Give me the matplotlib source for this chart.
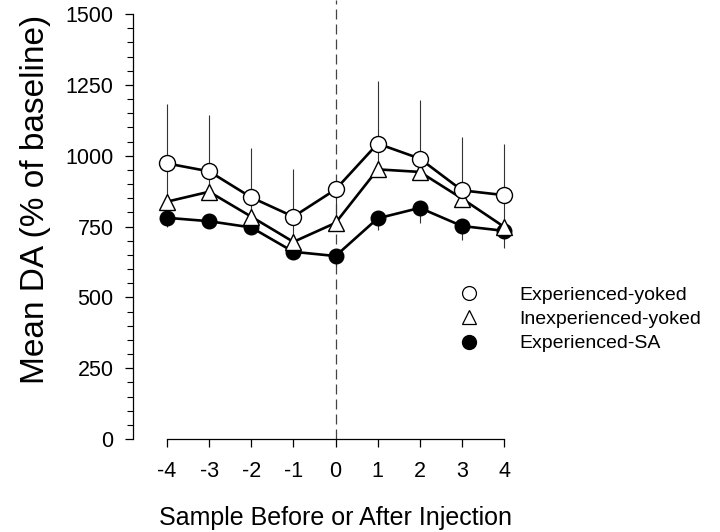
import numpy as np
import matplotlib
matplotlib.use("Agg")
import matplotlib.pyplot as plt
from matplotlib.lines import Line2D

plt.rcParams['font.family'] = ['Liberation Sans', 'DejaVu Sans']

# ---------------- DATA ----------------
samples = [-4, -3, -2, -1, 0, 1, 2, 3, 4]

exp_yoked = [973, 945, 853, 785, 881, 1043, 990, 878, 861]
exp_yoked_err = [209, 199, 176, 167, 0, 222, 206, 187, 179]      # upward only

inexp_yoked = [838, 873, 785, 696, 763, 952, 943, 849, 749]
inexp_yoked_err = [120, 70, 65, 89, 110, 88, 45, 25, 110]          # upward only

exp_sa = [781, 769, 747, 661, 646, 779, 816, 752, 735]
exp_sa_err = [32, 0, 0, 20, 35, 41, 55, 50, 62]                    # downward only

labels = ["Experienced-yoked", "Inexperienced-yoked", "Experienced-SA"]

# ---------------- FIGURE ----------------
fig = plt.figure(figsize=(7.2, 5.32), dpi=100)
ax = fig.add_axes([0.1847, 0.1748, 0.533, 0.8252])

x = np.array(samples)
lw = 1.9
ecol = "#333333"

# error bars (thin, one-sided)
ax.errorbar(x, exp_sa, yerr=[exp_sa_err, np.zeros(len(x))], fmt='none',
            ecolor=ecol, elinewidth=0.8, capsize=0, zorder=1)
ax.errorbar(x, inexp_yoked, yerr=[np.zeros(len(x)), inexp_yoked_err], fmt='none',
            ecolor=ecol, elinewidth=0.8, capsize=0, zorder=1)
ax.errorbar(x, exp_yoked, yerr=[np.zeros(len(x)), exp_yoked_err], fmt='none',
            ecolor=ecol, elinewidth=0.8, capsize=0, zorder=1)

# dashed injection line
ax.axvline(0, color="#444444", lw=0.9, ls=(0, (8, 4)), zorder=0.5)

# series
ax.plot(x, exp_sa, '-o', color='black', lw=lw, ms=10.5,
        mfc='black', mec='black', zorder=3)
ax.plot(x, inexp_yoked, '-^', color='black', lw=lw, ms=11.5,
        mfc='white', mec='black', mew=1.0, zorder=4)
ax.plot(x, exp_yoked, '-o', color='black', lw=lw, ms=11.5,
        mfc='white', mec='black', mew=1.0, zorder=5)

# ---------------- AXES ----------------
ax.set_xlim(-4.807, 4.3)
ax.set_ylim(0, 1550)

for s in ['top', 'right']:
    ax.spines[s].set_visible(False)
ax.spines['left'].set_position(('data', -4.807))
ax.spines['left'].set_bounds(0, 1500)
ax.spines['bottom'].set_bounds(-4, 4)
ax.spines['left'].set_linewidth(0.9)
ax.spines['bottom'].set_linewidth(0.9)

ax.set_xticks(samples)
ax.set_xticklabels([str(v) for v in samples])
ax.set_yticks([0, 250, 500, 750, 1000, 1250, 1500])
ax.set_yticks(np.arange(0, 1501, 50), minor=True)
ax.tick_params(axis='both', which='major', direction='out', length=6,
               width=0.9, labelsize=15.5)
ax.tick_params(axis='y', which='major', pad=8)
ax.tick_params(axis='x', which='major', pad=10)
ax.tick_params(axis='y', which='minor', direction='out', length=4, width=0.8)
ax.tick_params(axis='x', which='minor', bottom=False)

ax.set_xlabel("Sample Before or After Injection", fontsize=18)
ax.set_ylabel("Mean DA (% of baseline)", fontsize=24)
ax.xaxis.set_label_coords(0.528, -0.152)
ax.yaxis.set_label_coords(-0.2136, 0.545)

# ---------------- LEGEND ----------------
handles = [
    Line2D([], [], ls='none', marker='o', ms=10, mfc='white', mec='black', mew=0.9),
    Line2D([], [], ls='none', marker='^', ms=10, mfc='white', mec='black', mew=0.9),
    Line2D([], [], ls='none', marker='o', ms=10, mfc='black', mec='black'),
]
fig.legend(handles, labels, loc='center left', bbox_to_anchor=(0.617, 0.400),
           frameon=False, fontsize=14, handlelength=1.5, handletextpad=1.85,
           labelspacing=0.35, borderpad=0)

fig.savefig("out.png", dpi=100)
